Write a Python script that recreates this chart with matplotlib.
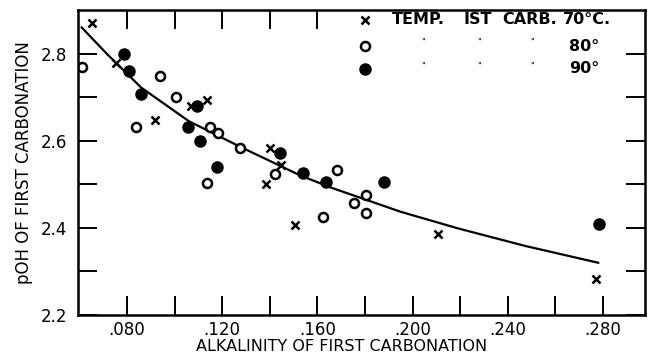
import matplotlib
matplotlib.use("Agg")
import matplotlib.pyplot as plt
from matplotlib.ticker import FixedLocator, FuncFormatter, NullFormatter

# values
alk_70 = [0.0653, 0.0754, 0.0918, 0.1069, 0.1137, 0.1402, 0.1448, 0.1385, 0.1507, 0.2109, 0.2771]
poh_70 = [2.871, 2.779, 2.648, 2.680, 2.694, 2.584, 2.545, 2.501, 2.407, 2.386, 2.283]

alk_80 = [0.0611, 0.0939, 0.1006, 0.0838, 0.1149, 0.1183, 0.1137, 0.1276, 0.1423, 0.1625, 0.1684, 0.1756, 0.1806, 0.1806]
poh_80 = [2.770, 2.749, 2.701, 2.632, 2.632, 2.618, 2.503, 2.584, 2.524, 2.425, 2.533, 2.457, 2.476, 2.434]

alk_90 = [0.0787, 0.0808, 0.0859, 0.1095, 0.1057, 0.1107, 0.1179, 0.1444, 0.1541, 0.1638, 0.1878, 0.2783]
poh_90 = [2.798, 2.761, 2.708, 2.680, 2.632, 2.600, 2.540, 2.572, 2.526, 2.506, 2.506, 2.409]

curve_x = [0.061, 0.072, 0.086, 0.106, 0.128, 0.153, 0.166, 0.195, 0.219, 0.247, 0.278]
curve_y = [2.860, 2.797, 2.722, 2.645, 2.585, 2.520, 2.492, 2.437, 2.399, 2.359, 2.320]

x_labels = [0.080, 0.120, 0.160, 0.200, 0.240, 0.280]
x_minor = [0.100, 0.140, 0.180, 0.220, 0.260]
top_ticks = [0.080, 0.100, 0.120, 0.140, 0.160]
y_labels = [2.2, 2.4, 2.6, 2.8]
y_minor = [2.3, 2.5, 2.7]

fig = plt.figure(figsize=(6.49, 3.58), dpi=100)
ax = fig.add_axes([0.120, 0.120, 0.874, 0.852])

ax.plot(curve_x, curve_y, color="black", lw=1.6)
ax.plot(alk_70, poh_70, "x", color="black", ms=6, mew=1.8)
ax.plot(alk_80, poh_80, "o", mfc="white", mec="black", ms=6.5, mew=1.8)
ax.plot(alk_90, poh_90, "o", color="black", ms=8)

ax.set_xlim(0.0594, 0.2977)
ax.set_ylim(2.2, 2.9)

ax.xaxis.set_major_locator(FixedLocator(x_labels))
ax.xaxis.set_minor_locator(FixedLocator(x_minor))
ax.yaxis.set_major_locator(FixedLocator(y_labels))
ax.yaxis.set_minor_locator(FixedLocator(y_minor))
ax.xaxis.set_major_formatter(FuncFormatter(lambda v, p: ("%.3f" % v)[1:]))
ax.yaxis.set_major_formatter(FuncFormatter(lambda v, p: "%.1f" % v))

for which in ["major", "minor"]:
    ax.tick_params(which=which, direction="in", length=14, width=1.4,
                   top=False, right=True, labelsize=12)
ax.tick_params(axis="x", pad=4)
ax.tick_params(axis="y", pad=8)
for s in ax.spines.values():
    s.set_linewidth(1.8)

# top ticks only on the left part, as in the original
ax2 = ax.twiny()
ax2.set_xlim(ax.get_xlim())
ax2.xaxis.set_major_locator(FixedLocator(top_ticks))
ax2.xaxis.set_major_formatter(NullFormatter())
ax2.tick_params(direction="in", length=14, width=1.4)
for s in ax2.spines.values():
    s.set_visible(False)

ax.set_xlabel("ALKALINITY OF FIRST CARBONATION", fontsize=11.5)
ax.xaxis.set_label_coords(0.464, -0.078)
ax.set_ylabel("pOH OF FIRST CARBONATION", fontsize=12, labelpad=5)

# hand-lettered key in the corner
t = ax.transAxes
ax.plot([0.506], [0.968], "x", color="black", ms=6, mew=1.8, transform=t, clip_on=False)
ax.plot([0.506], [0.882], "o", mfc="white", mec="black", ms=6.5, mew=1.8, transform=t)
ax.plot([0.506], [0.807], "o", color="black", ms=8, transform=t)
for word, xw in [("TEMP.", 0.554), ("IST", 0.679), ("CARB.", 0.749), ("70°C.", 0.855)]:
    ax.text(xw, 0.968, word, transform=t, fontsize=11.5, fontweight="bold",
            va="center", ha="left")
ax.text(0.866, 0.882, "80°", transform=t, fontsize=11.5, fontweight="bold", va="center")
ax.text(0.866, 0.807, "90°", transform=t, fontsize=11.5, fontweight="bold", va="center")
for xd in [0.608, 0.707, 0.800]:
    ax.text(xd, 0.895, '"', transform=t, fontsize=6, ha="center", va="center")
    ax.text(xd, 0.815, '"', transform=t, fontsize=6, ha="center", va="center")

fig.savefig("out.png", dpi=100)
